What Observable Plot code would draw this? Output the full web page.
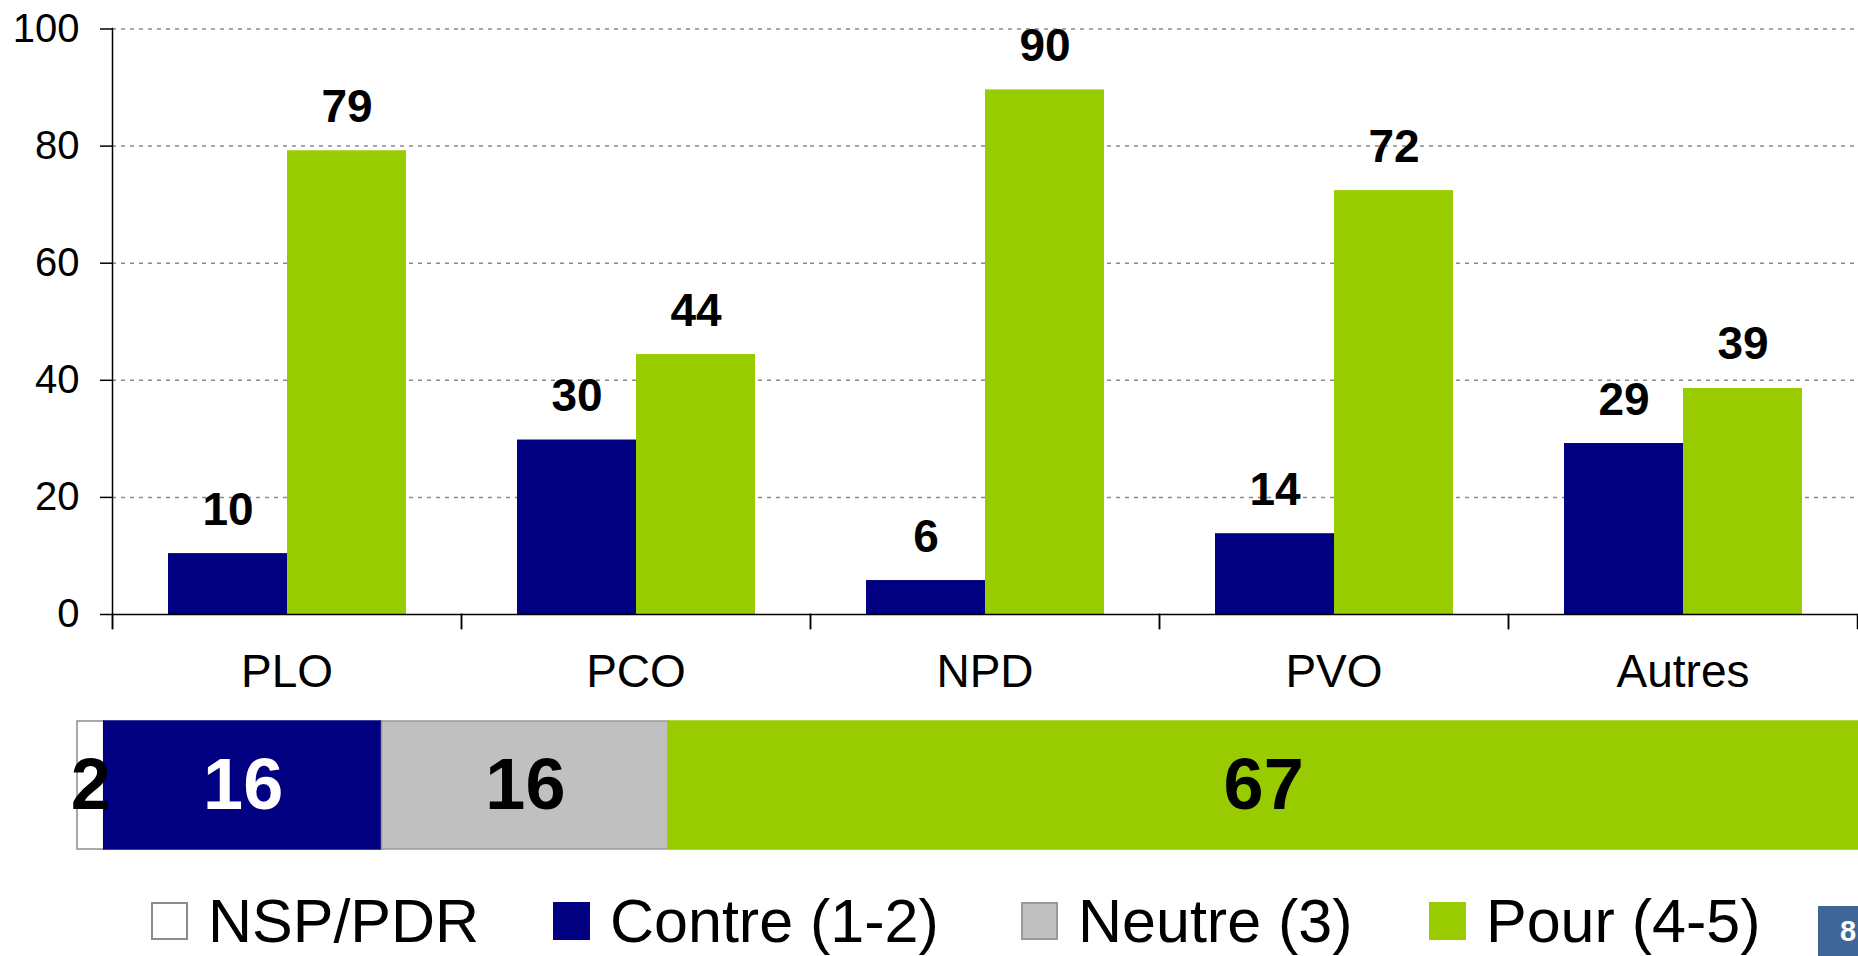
<!DOCTYPE html>
<html>
<head>
<meta charset="utf-8">
<script src="https://cdn.jsdelivr.net/npm/d3@7"></script>
<script src="https://cdn.jsdelivr.net/npm/@observablehq/plot@0.6"></script>
<style>
  html, body { margin: 0; padding: 0; background: #fff; width: 1858px; height: 956px; overflow: hidden;
    font-family: "Liberation Sans", Arial, sans-serif; }
  #wrap { position: relative; width: 1858px; height: 956px; }
  #top { position: absolute; left: 0; top: 0; }
  #stack { position: absolute; left: 0; top: 700px; }
  #top svg, #stack svg { display: block; }
  .legend { position: absolute; left: 0; top: 891px; height: 60px; width: 1858px;
    font-size: 61px; line-height: 60px; color: #000; white-space: nowrap; }
  .legend .item { position: absolute; top: 0; height: 60px; display: flex; align-items: center; }
  .legend .sw { width: 37px; height: 38px; margin-right: 20px; box-sizing: border-box; }
  .page { position: absolute; left: 1818px; top: 906px; width: 40px; height: 50px; background: #3F6696;
    color: #fff; font-weight: bold; font-size: 29px; line-height: 50px; text-align: left; padding-left: 22px; box-sizing: border-box; overflow: hidden; }
</style>
</head>
<body>
<div id="wrap">
  <div id="top"></div>
  <div id="stack"></div>
  <div class="legend" id="legend"></div>
  <div class="page">8</div>
</div>
<script>
// ---- data (bar lengths; printed labels are the rounded values) ----
const parties = ["PLO", "PCO", "NPD", "PVO", "Autres"];
const seriesNames = ["Contre", "Pour"];
const contreValues = [10.4, 29.8, 5.8, 13.8, 29.2];
const pourValues = [79.2, 44.4, 89.6, 72.4, 38.6];
const yTicks = [0, 20, 40, 60, 80, 100];

const overallKeys = ["NSP/PDR", "Contre (1-2)", "Neutre (3)", "Pour (4-5)"];
const overallValues = [1.5, 15.6, 16.1, 66.8];

// ---- styles ----
const seriesColors = ["#000080", "#99CC00"];
const overallFill = ["#FFFFFF", "#000080", "#C0C0C0", "#99CC00"];
const overallStroke = ["#8C8C8C", "#000080", "#9A9A9A", "#99CC00"];
const overallText = ["#000000", "#FFFFFF", "#000000", "#000000"];
const legendLeft = [151, 553, 1021, 1429];
const FONT = '"Liberation Sans", Arial, sans-serif';

// ---- top grouped bar chart ----
const rows = parties.flatMap((p, i) => [
  {party: p, series: seriesNames[0], value: contreValues[i]},
  {party: p, series: seriesNames[1], value: pourValues[i]}
]);

const topPlot = Plot.plot({
  width: 1858,
  height: 700,
  marginLeft: 111,
  marginRight: 0,
  marginTop: 28,
  marginBottom: 72,
  style: {fontFamily: FONT, fontSize: "40px", color: "#000", background: "transparent", overflow: "visible"},
  fx: {domain: parties, padding: 0, label: null},
  x: {domain: seriesNames, paddingInner: 0, paddingOuter: 0.456, axis: null},
  y: {domain: [0, 100], range: [614, 28.5], label: null},
  color: {domain: seriesNames, range: seriesColors},
  marks: [
    Plot.gridY(yTicks.filter(t => t > 0), {stroke: "#8a8a8a", strokeOpacity: 1, strokeWidth: 1.5, strokeDasharray: "4,5"}),
    Plot.barY(rows, {fx: "party", x: "series", y: "value", fill: "series"}),
    Plot.text(rows, {fx: "party", x: "series", y: "value", text: d => String(Math.round(d.value)),
      lineAnchor: "bottom", dy: -29, fontSize: 46, fontWeight: "bold", fill: "#000"}),
    Plot.ruleY([0], {stroke: "#000", strokeWidth: 1.5}),
    Plot.frame({anchor: "left", facetAnchor: "left", stroke: "#000", strokeWidth: 1.5}),
    Plot.frame({anchor: "left", insetTop: 586, stroke: "#000", strokeWidth: 1.5}),
    Plot.frame({anchor: "right", insetTop: 586, stroke: "#000", strokeWidth: 1.5}),
    Plot.axisY({ticks: yTicks, tickSize: 12, tickPadding: 21, fontSize: 40, label: null, stroke: "#000", strokeWidth: 1.5}),
    Plot.axisFx({anchor: "bottom", tickSize: 0, tickPadding: 26, fontSize: 46, label: null})
  ]
});
document.getElementById("top").appendChild(topPlot);

// ---- overall stacked bar ----
const overall = overallKeys.map((k, i) => ({key: k, value: overallValues[i], i}));

const stackPlot = Plot.plot({
  width: 1858,
  height: 150,
  marginLeft: 77,
  marginRight: 0,
  marginTop: 21,
  marginBottom: 1,
  style: {fontFamily: FONT, background: "transparent", overflow: "visible"},
  x: {domain: [0, 100], axis: null},
  color: {type: "identity"},
  marks: [
    Plot.barX(overall, Plot.stackX({x: "value", fill: d => overallFill[d.i], stroke: d => overallStroke[d.i], strokeWidth: 1.5})),
    Plot.text(overall, Plot.stackX({x: "value", text: d => String(Math.round(d.value)), fill: d => overallText[d.i],
      fontSize: 72, fontWeight: "bold"}))
  ]
});
document.getElementById("stack").appendChild(stackPlot);

// ---- legend ----
const legend = document.getElementById("legend");
overallKeys.forEach((k, i) => {
  const item = document.createElement("div");
  item.className = "item";
  item.style.left = legendLeft[i] + "px";
  const sw = document.createElement("div");
  sw.className = "sw";
  sw.style.background = overallFill[i];
  sw.style.border = "2px solid " + (i === 0 ? "#8C8C8C" : i === 2 ? "#9A9A9A" : overallFill[i]);
  const tx = document.createElement("span");
  tx.textContent = k;
  item.appendChild(sw);
  item.appendChild(tx);
  legend.appendChild(item);
});
</script>
</body>
</html>
